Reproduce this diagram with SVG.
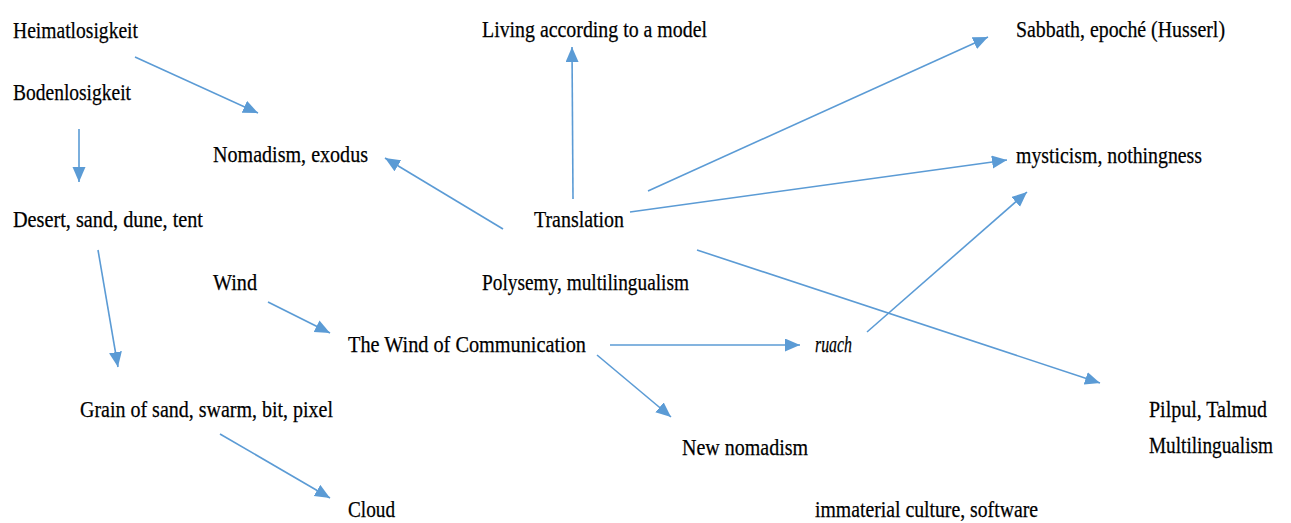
<svg xmlns="http://www.w3.org/2000/svg" width="1291" height="523" viewBox="0 0 1291 523">
  <style>
    text { font-family: 'Liberation Serif', 'Times New Roman', serif; font-size: 24px; fill: #000000; stroke: #000000; stroke-width: 0.25; }
    .it { font-style: italic; }
    .edge { stroke: #5b9bd5; stroke-width: 1.6; fill: none; marker-end: url(#head); }
  </style>
  <defs>
    <marker id="head" markerUnits="userSpaceOnUse" markerWidth="16" markerHeight="14" refX="15" refY="6.5" orient="auto">
      <path d="M0,0 L15,6.5 L0,13 Z" fill="#5b9bd5"/>
    </marker>
  </defs>
  <rect width="1291" height="523" fill="#ffffff"/>

  <g id="connectors">
    <line class="edge" x1="135" y1="57" x2="258" y2="113"/>
    <line class="edge" x1="79" y1="129" x2="79" y2="182"/>
    <line class="edge" x1="98" y1="250" x2="118" y2="367"/>
    <line class="edge" x1="220" y1="434" x2="330" y2="498"/>
    <line class="edge" x1="268" y1="302" x2="330" y2="333"/>
    <line class="edge" x1="610" y1="345" x2="800" y2="345"/>
    <line class="edge" x1="597" y1="355" x2="671" y2="417"/>
    <line class="edge" x1="867" y1="332" x2="1027" y2="192"/>
    <line class="edge" x1="503" y1="229" x2="385" y2="158"/>
    <line class="edge" x1="573" y1="199" x2="572" y2="47"/>
    <line class="edge" x1="648" y1="191" x2="988" y2="37"/>
    <line class="edge" x1="630" y1="212" x2="1007" y2="160"/>
    <line class="edge" x1="697" y1="250" x2="1100" y2="383"/>
  </g>

  <!-- labels: condensed serif, each squeezed to its set width -->
  <g id="heimatlosigkeit"><text x="13" y="38" textLength="125" lengthAdjust="spacingAndGlyphs">Heimatlosigkeit</text></g>
  <g id="bodenlosigkeit"><text x="13" y="100" textLength="118" lengthAdjust="spacingAndGlyphs">Bodenlosigkeit</text></g>
  <g id="nomadism"><text x="213" y="162" textLength="155" lengthAdjust="spacingAndGlyphs">Nomadism, exodus</text></g>
  <g id="desert"><text x="13" y="227" textLength="190" lengthAdjust="spacingAndGlyphs">Desert, sand, dune, tent</text></g>
  <g id="living"><text x="482" y="37" textLength="225" lengthAdjust="spacingAndGlyphs">Living according to a model</text></g>
  <g id="translation"><text x="534" y="227" textLength="90" lengthAdjust="spacingAndGlyphs">Translation</text></g>
  <g id="polysemy"><text x="482" y="290" textLength="207" lengthAdjust="spacingAndGlyphs">Polysemy, multilingualism</text></g>
  <g id="sabbath"><text x="1016" y="37" textLength="209" lengthAdjust="spacingAndGlyphs">Sabbath, epoché (Husserl)</text></g>
  <g id="mysticism"><text x="1016" y="163" textLength="186" lengthAdjust="spacingAndGlyphs">mysticism, nothingness</text></g>
  <g id="wind"><text x="213" y="290" textLength="44" lengthAdjust="spacingAndGlyphs">Wind</text></g>
  <g id="communication"><text x="348" y="352" textLength="238" lengthAdjust="spacingAndGlyphs">The Wind of Communication</text></g>
  <g id="ruach"><text class="it" x="815" y="352" textLength="37" lengthAdjust="spacingAndGlyphs">ruach</text></g>
  <g id="grain"><text x="80" y="417" textLength="253" lengthAdjust="spacingAndGlyphs">Grain of sand, swarm, bit, pixel</text></g>
  <g id="cloud"><text x="348" y="517" textLength="47" lengthAdjust="spacingAndGlyphs">Cloud</text></g>
  <g id="new-nomadism"><text x="682" y="455" textLength="126" lengthAdjust="spacingAndGlyphs">New nomadism</text></g>
  <g id="pilpul">
    <text transform="translate(1149 417) scale(0.8 1)" textLength="147.5" lengthAdjust="spacingAndGlyphs">Pilpul, Talmud</text>
    <text transform="translate(1149 453) scale(0.8 1)" textLength="155" lengthAdjust="spacingAndGlyphs">Multilingualism</text>
  </g>
  <g id="immaterial"><text x="815" y="517" textLength="223" lengthAdjust="spacingAndGlyphs">immaterial culture, software</text></g>
</svg>
